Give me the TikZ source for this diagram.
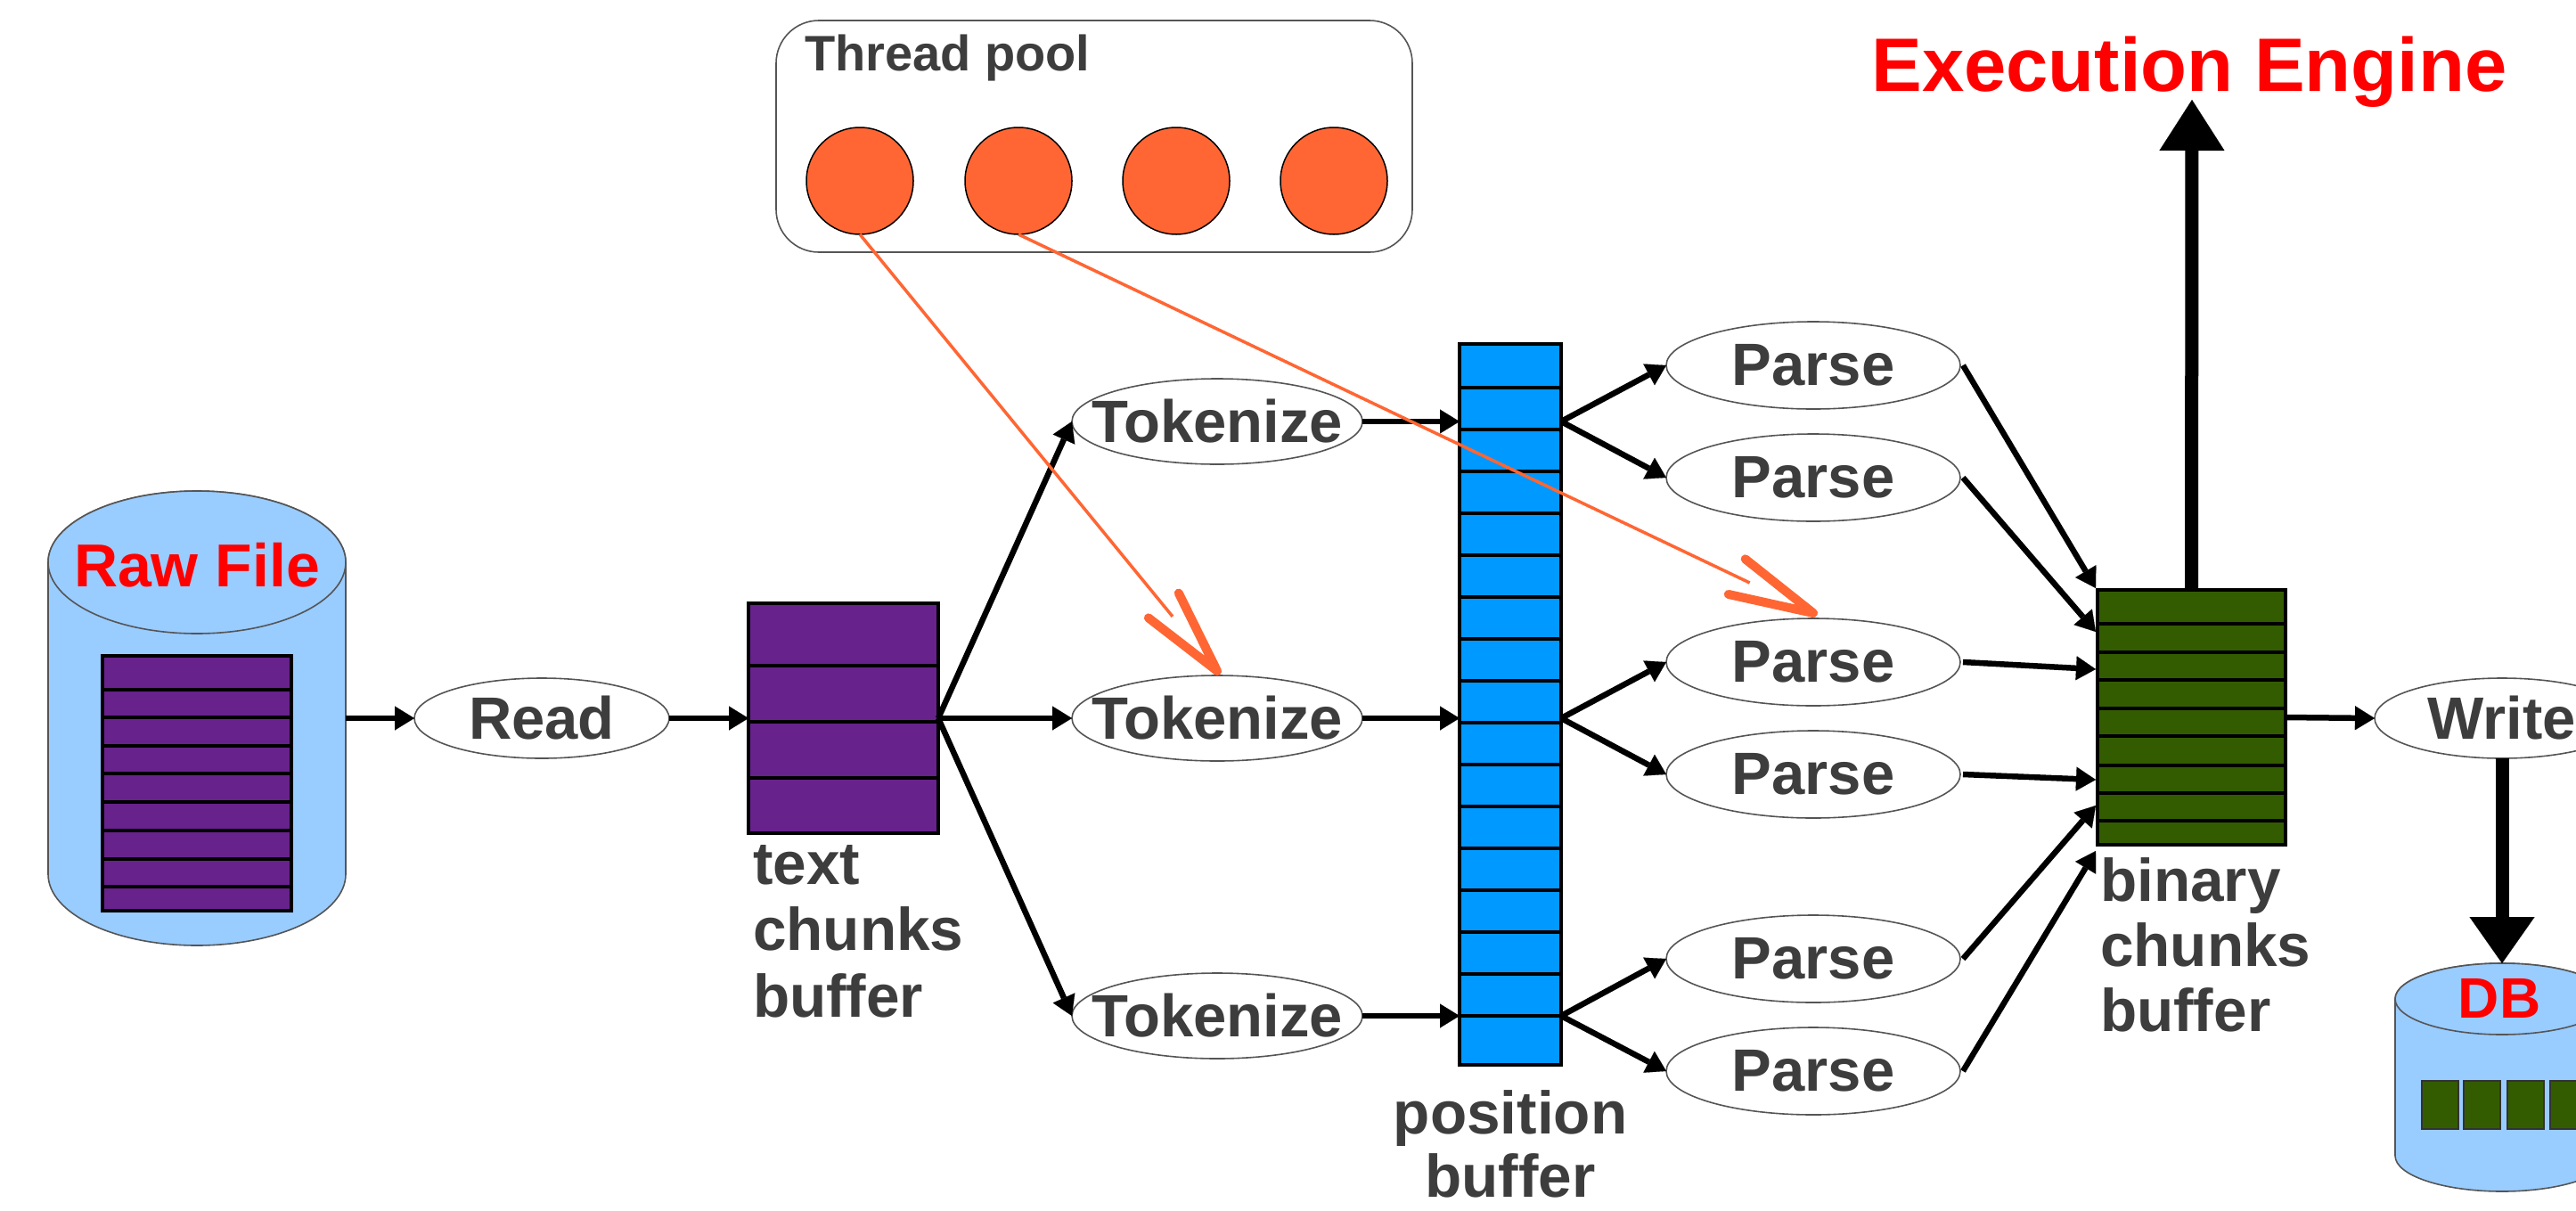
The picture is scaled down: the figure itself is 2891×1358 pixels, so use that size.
\documentclass[tikz,border=0pt]{standalone}
\usepackage{fontspec}
\setmainfont{Liberation Sans}
\usetikzlibrary{arrows.meta,shapes.geometric,calc}
\definecolor{txtgray}{HTML}{3D3D3D}
\definecolor{rawpurple}{RGB}{104,34,140}
\definecolor{posblue}{RGB}{0,153,255}
\definecolor{bingreen}{RGB}{51,92,0}
\definecolor{cylblue}{RGB}{153,204,255}
\definecolor{thorange}{RGB}{255,102,51}
\definecolor{hired}{RGB}{255,0,0}
\definecolor{edgegray}{HTML}{555555}
\newcommand\zwbox[1]{\makebox[0pt]{#1}}
\begin{document}
\begin{tikzpicture}[x=1pt,y=-1pt,
  every node/.style={inner sep=0pt, outer sep=0pt},
  op/.style={ellipse, draw=edgegray, line width=1.6pt, fill=white, inner sep=0pt,
     font=\fontsize{67}{70}\selectfont\bfseries, text=txtgray},
  rd/.style={op, minimum width=286pt, minimum height=90pt},
  tk/.style={op, minimum width=326pt, minimum height=96pt},
  ps/.style={op, minimum width=330pt, minimum height=98pt},
  buf/.style={rectangle, draw=black, line width=4.5pt, inner sep=0pt},
  rowline/.style={draw=black, line width=4pt},
  flow/.style={draw=black, line width=6.5pt, -{Triangle[length=22pt,width=27pt,line width=0.1pt]}},
  bigflow/.style={draw=black, line width=15pt, -{Triangle[length=57pt,width=73pt,line width=0.1pt]}},
  thread/.style={circle, draw=black, line width=1.5pt, fill=thorange, minimum size=120pt},
  assignline/.style={draw=thorange, line width=3.5pt, shorten >=79pt},
  barb/.style={draw=thorange, line width=10pt, line cap=round, line join=round},
  lbl/.style={text=txtgray, align=left, anchor=north west},
  cyl/.style={draw=edgegray, line width=1.6pt, fill=cylblue},
  title/.style={text=hired, anchor=base}
]
\useasboundingbox (0,0) rectangle (2891,1358);
\clip (0,0) rectangle (2891,1358);

% ---------- Raw file cylinder ----------
\node[minimum width=334pt, minimum height=510pt] (raw) at (221,806) {};
\path[cyl] (54,631) -- (54,981) arc[start angle=180, end angle=0, x radius=167, y radius=80]
  -- (388,631) arc[start angle=0, end angle=-180, x radius=167, y radius=80] -- cycle;
\draw[cyl] (221,631) ellipse[x radius=167, y radius=80];
\node[title, font=\fontsize{68}{72}\selectfont\bfseries] (rawlbl) at (221,658) {Raw File};
\node[buf, fill=rawpurple, minimum width=212pt, minimum height=286pt] (rawstack) at (221,879) {};
\foreach \yy in {774,805,837,868,900,932,964,995} \draw[rowline] (113,\yy) -- (329,\yy);

% ---------- Read ----------
\node[rd] (read) at (608,806) {\zwbox{Read}};

% ---------- text chunks buffer ----------
\node[buf, fill=rawpurple, minimum width=213pt, minimum height=258pt] (tb) at (946.5,806) {};
\foreach \yy in {747,810,873} \draw[rowline] (838,\yy) -- (1055,\yy);
\node[lbl, font=\fontsize{67.5}{74.5}\selectfont\bfseries] (tblbl) at (845,942) {\rule{0pt}{50pt}text\\chunks\\buffer};

% ---------- Tokenize ----------
\node[tk] (t1) at (1366,473) {\zwbox{Tokenize}};
\node[tk] (t2) at (1366,806) {\zwbox{Tokenize}};
\node[tk] (t3) at (1366,1140) {\zwbox{Tokenize}};

% ---------- position buffer ----------
\node[buf, fill=posblue, minimum width=114pt, minimum height=809pt] (pb) at (1695,790.5) {};
\foreach \k in {0,...,15} \draw[rowline] (1636,435+47*\k) -- (1754,435+47*\k);
\node[lbl, align=center, anchor=north, font=\fontsize{67.5}{71}\selectfont\bfseries] (pblbl) at (1695,1222) {\rule{0pt}{50pt}position\\buffer};

% ---------- Parse ----------
\node[ps] (p1) at (2035,410) {\zwbox{Parse}};
\node[ps] (p2) at (2035,536) {\zwbox{Parse}};
\node[ps] (p3) at (2035,743) {\zwbox{Parse}};
\node[ps] (p4) at (2035,869) {\zwbox{Parse}};
\node[ps] (p5) at (2035,1076) {\zwbox{Parse}};
\node[ps] (p6) at (2035,1202) {\zwbox{Parse}};

% ---------- binary chunks buffer ----------
\node[buf, fill=bingreen, minimum width=211pt, minimum height=286pt] (bb) at (2459.5,805) {};
\foreach \yy in {700,732,763,795,826,859,890,921} \draw[rowline] (2352,\yy) -- (2567,\yy);
\node[lbl, font=\fontsize{67.5}{73}\selectfont\bfseries] (bblbl) at (2357,961) {\rule{0pt}{50pt}binary\\chunks\\buffer};

% ---------- Execution engine ----------
\node[title, font=\fontsize{85}{90}\selectfont\bfseries] (execlbl) at (2457,102) {Execution Engine};
\coordinate (exectip) at (2460,112);

% ---------- Write and DB ----------
\node[rd] (write) at (2808,806) {\zwbox{Write}};
\node[minimum width=240pt, minimum height=256pt] (db) at (2808,1209) {};
\path[cyl] (2688,1121) -- (2688,1297) arc[start angle=180, end angle=0, x radius=120, y radius=40]
  -- (2928,1121) arc[start angle=0, end angle=-180, x radius=120, y radius=40] -- cycle;
\draw[cyl] (2808,1121) ellipse[x radius=120, y radius=40];
\node[title, font=\fontsize{64}{70}\selectfont\bfseries] (dblbl) at (2805,1142) {DB};
\foreach \xx in {2718,2765,2814,2862}
  \draw[draw=black!80, line width=1.5pt, fill=bingreen] (\xx,1213) rectangle ++(41,54);

% ---------- Thread pool ----------
\node[draw=edgegray, line width=1.6pt, rounded corners=48pt, minimum width=714pt, minimum height=260pt] (pool) at (1228,153) {};
\node[text=txtgray, anchor=base west, font=\fontsize{56}{60}\selectfont\bfseries] (poollbl) at (903,79) {Thread pool};
\node[thread] (c1) at (965,203) {};
\node[thread] (c2) at (1143,203) {};
\node[thread] (c3) at (1320,203) {};
\node[thread] (c4) at (1497,203) {};

% ---------- connectors ----------
\draw[flow] (raw.east) -- (read.west);
\draw[flow] (read.east) -- (tb.west);
\foreach \t in {t1,t2,t3} \draw[flow] (tb.east) -- (\t.west);
\foreach \t in {t1,t2,t3} \draw[flow] (\t.east) -- (\t.east -| pb.west);
\draw[flow] (pb.east |- t1.east) -- (p1.west);
\draw[flow] (pb.east |- t1.east) -- (p2.west);
\draw[flow] (pb.east |- t2.east) -- (p3.west);
\draw[flow] (pb.east |- t2.east) -- (p4.west);
\draw[flow] (pb.east |- t3.east) -- (p5.west);
\draw[flow] (pb.east |- t3.east) -- (p6.west);
\coordinate (bi1) at (2352,660);
\coordinate (bi2) at (2352,709);
\coordinate (bi3) at (2352,751);
\coordinate (bi4) at (2352,875);
\coordinate (bi5) at (2352,904);
\coordinate (bi6) at (2352,955);
\foreach \i in {1,...,6} \draw[flow] ($(p\i.east)+(3,0)$) -- (bi\i);
\draw[flow] (bb.east) -- (write.west);
\draw[bigflow] (bb.north) -- (exectip);
\draw[bigflow, -{Triangle[length=52pt,width=73pt,line width=0.1pt]}] (write.south) -- (db.north);

% thread assignments (thin line + thick open barb head)
\coordinate (tip1) at ($(t2.north)+(0,-5)$);
\coordinate (tip2) at ($(p3.north)+(0,-6)$);
\draw[assignline] (c1.south) -- (tip1);
\draw[barb] ($(tip1)!97.5pt!13:(c1.south)$) -- (tip1) -- ($(tip1)!97.5pt!-13:(c1.south)$);
\draw[assignline] (c2.south) -- (tip2);
\draw[barb] ($(tip2)!97.5pt!13:(c2.south)$) -- (tip2) -- ($(tip2)!97.5pt!-13:(c2.south)$);
\end{tikzpicture}
\end{document}
